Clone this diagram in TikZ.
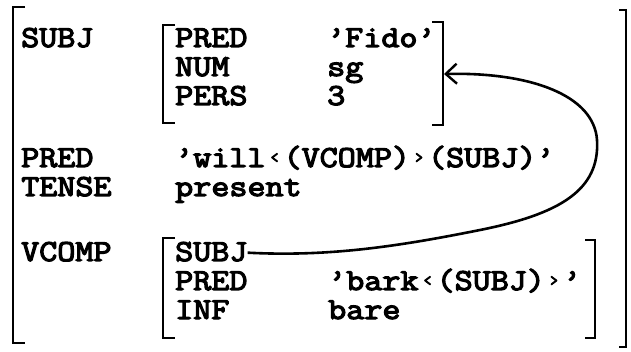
\documentclass[tikz,border=0pt]{standalone}
\usepackage{fontspec}
\usepackage{graphicx}
\usetikzlibrary{arrows.meta}
\newfontfamily\tw{Latin Modern Mono}[FakeStretch=1.15,FakeBold=4]
% small typewriter angle marks, kept on the one-character pitch
\newcommand\lguil{\makebox[\fontcharwd\font`A][c]{\raisebox{0.12em}{\scalebox{0.62}{‹}}}}
\newcommand\rguil{\makebox[\fontcharwd\font`A][c]{\raisebox{0.12em}{\scalebox{0.62}{›}}}}
\begin{document}
\begin{tikzpicture}[x=1pt,y=-1pt,
  txt/.style={anchor=base west,inner sep=0pt,font=\tw\fontsize{30.5}{30}\selectfont},
  brk/.style={line width=2.8pt,line cap=butt,line join=miter},
  link/.style={line width=2.6pt,-{Straight Barb[length=11pt,width=20pt,line width=2.4pt]}}]
\useasboundingbox (0,0) rectangle (631,352);

% outer structure
\draw[brk] (25,7) -- (13,7) -- (13,343) -- (25,343);
\draw[brk] (619,10) -- (626,10) -- (626,347) -- (619,347);

% SUBJ value
\draw[brk] (175,25) -- (163,25) -- (163,123) -- (175,123);
\draw[brk] (432,22) -- (443,22) -- (443,125) -- (432,125);

% VCOMP value
\draw[brk] (175,238) -- (163,238) -- (163,338) -- (175,338);
\draw[brk] (585,240) -- (595,240) -- (595,338) -- (585,338);

% attribute names
\node[txt] (subj)  at (21,47)  {SUBJ};
\node[txt] (pred)  at (21,167) {PRED};
\node[txt] (tense) at (21,196) {TENSE};
\node[txt] (vcomp) at (21,261) {VCOMP};

\node[txt] (spred) at (175,47)  {PRED};
\node[txt] (snum)  at (175,76)  {NUM};
\node[txt] (spers) at (175,105) {PERS};

\node[txt] (vsubj) at (175,261) {SUBJ};
\node[txt] (vpred) at (175,290) {PRED};
\node[txt] (vinf)  at (175,319) {INF};

% values
\node[txt] (fido) at (327,47)  {’Fido’};
\node[txt] (sg)   at (327,76)  {sg};
\node[txt] (three)at (327,105) {3};
\node[txt] (will) at (175,167) {’will\lguil(VCOMP)\rguil(SUBJ)’};
\node[txt] (pres) at (175,196) {present};
\node[txt] (bark) at (328,290) {’bark\lguil(SUBJ)\rguil’};
\node[txt] (bare) at (328,319) {bare};

% structure sharing
\coordinate (target) at (444,74);
\draw[link] ([yshift=-1pt]vsubj.east) .. controls (330,257) and (400,246) .. (480,230)
  .. controls (560,214) and (600,190) .. (597,140)
  .. controls (594,95) and (530,72) .. (target);
\end{tikzpicture}
\end{document}
